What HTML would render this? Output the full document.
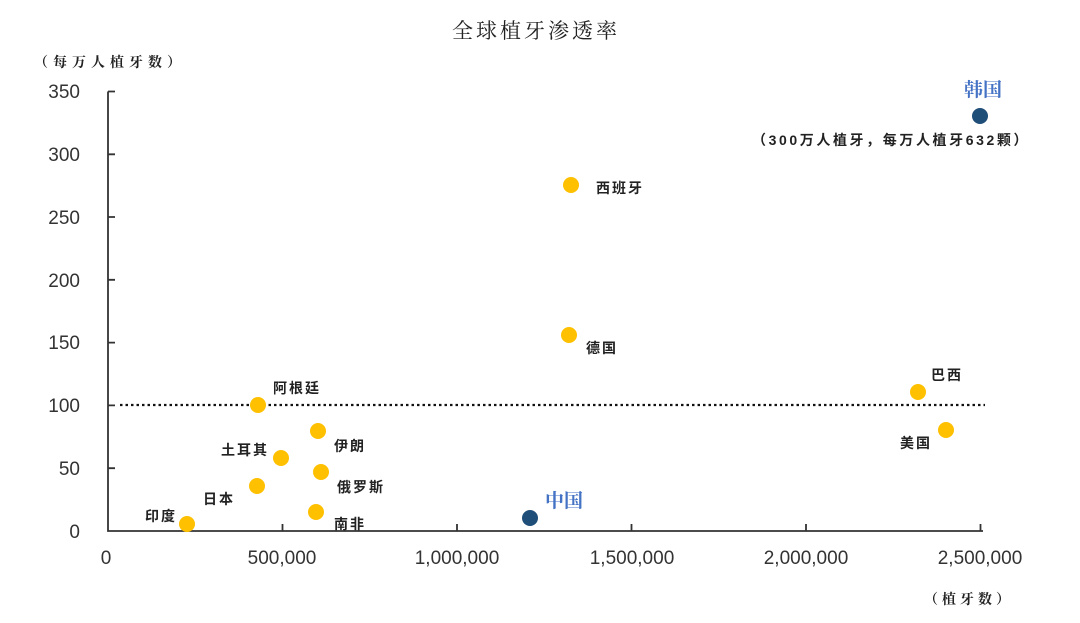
<!DOCTYPE html>
<html><head><meta charset="utf-8"><style>
body{margin:0;background:#fff;}
svg text{font-family:"Liberation Sans","Noto Sans CJK SC",sans-serif;}
.cn{font-family:"Noto Serif CJK SC","Noto Sans CJK SC",serif;font-weight:bold;font-size:14px;fill:#222;letter-spacing:2px;}
.tk{font-size:19px;fill:#333;}
</style></head><body>
<svg width="1080" height="618" viewBox="0 0 1080 618" xmlns="http://www.w3.org/2000/svg">
<text x="536" y="38" text-anchor="middle" class="cn" style="font-size:21px;font-weight:normal;letter-spacing:3px">全球植牙渗透率</text>
<text x="34" y="67" class="cn" style="letter-spacing:5px">（每万人植牙数）</text>
<text x="1014" y="604" text-anchor="end" class="cn" style="letter-spacing:4px">（植牙数）</text>
<g stroke="#333" stroke-width="1.8" fill="none">
<path d="M108 91.5V531H983"/>
<path d="M108 91.5h7M108 154.3h7M108 217h7M108 279.8h7M108 342.6h7M108 405.4h7M108 468.2h7"/>
<path d="M282.5 531v-7M457 531v-7M631.5 531v-7M806 531v-7M980.5 531v-7"/>
</g>
<g class="tk" text-anchor="end">
<text x="80" y="98">350</text><text x="80" y="161">300</text><text x="80" y="224">250</text><text x="80" y="287">200</text><text x="80" y="349">150</text><text x="80" y="412">100</text><text x="80" y="475">50</text><text x="80" y="538">0</text>
</g>
<g class="tk" text-anchor="middle">
<text x="106" y="564">0</text><text x="282" y="564">500,000</text><text x="457" y="564">1,000,000</text><text x="632" y="564">1,500,000</text><text x="806" y="564">2,000,000</text><text x="980" y="564">2,500,000</text>
</g>
<line x1="120" y1="405" x2="985" y2="405" stroke="#111" stroke-width="2.2" stroke-dasharray="2.5,3"/>
<g fill="#FFC000">
<circle cx="258" cy="405" r="8"/><circle cx="281" cy="458" r="8"/><circle cx="318" cy="431" r="8"/><circle cx="321" cy="472" r="8"/><circle cx="257" cy="486" r="8"/><circle cx="316" cy="512" r="8"/><circle cx="187" cy="524" r="8"/><circle cx="571" cy="185" r="8"/><circle cx="569" cy="335" r="8"/><circle cx="918" cy="392" r="8"/><circle cx="946" cy="430" r="8"/>
</g>
<g fill="#1F4E79"><circle cx="530" cy="518" r="8"/><circle cx="980" cy="116" r="8"/></g>
<g class="cn">
<text x="273" y="393">阿根廷</text>
<text x="221" y="455">土耳其</text>
<text x="334" y="451">伊朗</text>
<text x="337" y="492">俄罗斯</text>
<text x="203" y="504">日本</text>
<text x="334" y="529">南非</text>
<text x="145" y="521">印度</text>
<text x="596" y="193">西班牙</text>
<text x="586" y="353">德国</text>
<text x="931" y="380">巴西</text>
<text x="900" y="448">美国</text>
<text x="752" y="145" style="letter-spacing:2.6px">（300万人植牙，每万人植牙632颗）</text>
</g>
<text x="545" y="507" style="font-family:'Noto Serif CJK SC',serif;font-size:19px;fill:#4472C4;font-weight:bold">中国</text>
<text x="964" y="96" style="font-family:'Noto Serif CJK SC',serif;font-size:19px;fill:#4472C4;font-weight:bold">韩国</text>
</svg>
</body></html>
